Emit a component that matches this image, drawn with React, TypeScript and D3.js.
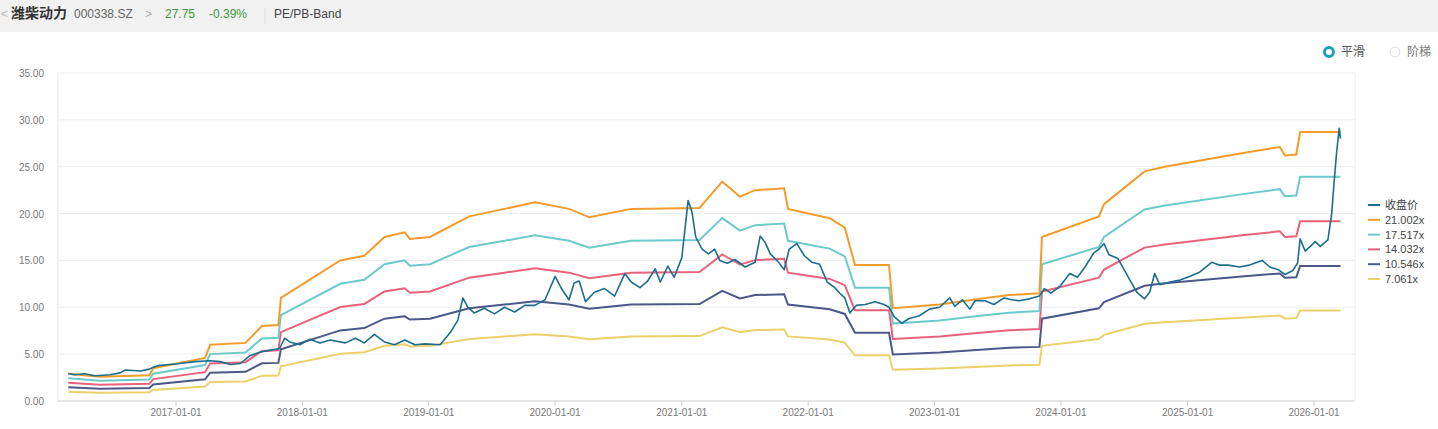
import React, { useEffect, useRef } from 'react';
import * as d3 from 'd3';

// close price: decimal year, value
const priceYears = [2016.15,2016.20,2016.28,2016.36,2016.48,2016.56,2016.60,2016.72,2016.79,2016.82,2016.87,2016.95,2017.03,2017.15,2017.27,2017.35,2017.43,2017.51,2017.58,2017.66,2017.74,2017.82,2017.86,2017.90,2017.98,2018.06,2018.14,2018.22,2018.34,2018.42,2018.49,2018.57,2018.65,2018.73,2018.81,2018.89,2018.97,2019.09,2019.17,2019.23,2019.27,2019.31,2019.36,2019.44,2019.52,2019.60,2019.68,2019.76,2019.84,2019.92,2020.00,2020.05,2020.11,2020.15,2020.19,2020.24,2020.31,2020.39,2020.47,2020.55,2020.60,2020.67,2020.73,2020.79,2020.83,2020.89,2020.94,2021.00,2021.05,2021.08,2021.11,2021.16,2021.21,2021.26,2021.30,2021.36,2021.42,2021.50,2021.58,2021.62,2021.66,2021.70,2021.76,2021.81,2021.85,2021.91,2021.97,2022.03,2022.09,2022.15,2022.21,2022.25,2022.29,2022.33,2022.38,2022.45,2022.53,2022.60,2022.64,2022.68,2022.74,2022.80,2022.88,2022.96,2023.04,2023.12,2023.16,2023.22,2023.28,2023.32,2023.40,2023.47,2023.55,2023.61,2023.67,2023.75,2023.83,2023.87,2023.92,2023.99,2024.07,2024.13,2024.19,2024.26,2024.30,2024.34,2024.38,2024.45,2024.50,2024.54,2024.60,2024.66,2024.70,2024.74,2024.78,2024.86,2024.94,2025.02,2025.09,2025.19,2025.25,2025.32,2025.41,2025.49,2025.59,2025.65,2025.72,2025.77,2025.83,2025.87,2025.89,2025.93,2026.01,2026.05,2026.11,2026.14,2026.16,2026.18,2026.20,2026.21];
const priceValues = [2.9,2.8,2.9,2.7,2.8,3.0,3.3,3.2,3.4,3.6,3.8,3.9,4.0,4.2,4.3,4.2,3.9,4.0,4.8,5.2,5.4,5.6,6.7,6.3,6.0,6.6,6.2,6.5,6.2,6.7,6.2,7.1,6.3,6.0,6.5,6.0,6.1,6.0,7.3,8.6,11.0,10.0,9.4,9.9,9.3,10.0,9.5,10.2,10.2,10.8,13.3,12.0,10.8,12.6,12.8,10.6,11.6,12.0,11.2,13.6,12.7,12.1,12.8,14.1,12.7,14.4,13.2,15.3,21.4,20.2,17.5,16.2,15.7,16.2,15.0,14.7,15.1,14.3,14.8,17.6,16.9,15.7,14.9,14.0,16.2,16.8,15.5,14.8,14.6,12.7,12.1,11.5,11.0,9.4,10.2,10.3,10.6,10.3,10.0,9.0,8.3,8.8,9.1,9.8,10.0,11.0,10.1,10.8,9.8,10.7,10.7,10.3,11.0,10.8,10.7,10.9,11.2,12.0,11.5,12.2,13.6,13.2,14.3,15.8,16.2,16.8,15.6,15.2,14.0,13.0,11.6,10.9,11.6,13.6,12.4,12.7,12.9,13.3,13.7,14.8,14.5,14.5,14.3,14.5,15.0,14.3,14.0,13.5,13.9,14.7,17.3,16.0,17.0,16.5,17.2,20.0,23.5,26.7,29.1,28.0];

// top band (21.002x); other bands scale from it
const bandYears = [2016.15,2016.40,2016.79,2016.82,2017.23,2017.27,2017.55,2017.68,2017.81,2017.83,2018.30,2018.49,2018.65,2018.81,2018.85,2019.01,2019.32,2019.60,2019.84,2020.11,2020.27,2020.60,2021.14,2021.32,2021.46,2021.58,2021.81,2021.84,2022.17,2022.29,2022.37,2022.64,2022.67,2023.04,2023.36,2023.59,2023.83,2023.85,2024.30,2024.34,2024.66,2024.82,2025.45,2025.73,2025.77,2025.86,2025.89,2026.21];
const topBand = [2.9,2.6,2.75,3.5,4.6,6.0,6.2,8.0,8.1,11.0,15.0,15.5,17.5,18.0,17.3,17.5,19.7,20.5,21.2,20.5,19.6,20.5,20.6,23.4,21.8,22.5,22.7,20.5,19.5,18.5,14.5,14.5,9.9,10.3,10.9,11.3,11.5,17.5,19.7,21.0,24.5,25.0,26.5,27.1,26.2,26.3,28.7,28.7];

const multiples = [21.002, 17.517, 14.032, 10.546, 7.061];
const bandColors = ['#f39c2b', '#6ccaca', '#e8627a', '#4b5888', '#ecd069'];
const priceColor = '#1d6d8f';
const legendLabels = ['收盘价', '21.002x', '17.517x', '14.032x', '10.546x', '7.061x'];
const yTicks = [0, 5, 10, 15, 20, 25, 30, 35];
const xTickYears = [2017, 2018, 2019, 2020, 2021, 2022, 2023, 2024, 2025, 2026];

const toDate = (y: number) => {
  const yr = Math.floor(y);
  const s = new Date(yr, 0, 1).getTime(), e = new Date(yr + 1, 0, 1).getTime();
  return new Date(s + (y - yr) * (e - s));
};

const W = 1438, H = 429;
const font = 'Arial, "Liberation Sans", "Noto Sans CJK SC", sans-serif';

export default function App() {
  const ref = useRef<SVGSVGElement>(null);

  useEffect(() => {
    document.body.style.margin = '0';
    const svg = d3.select(ref.current);
    svg.selectAll('*').remove();

    // header
    svg.append('rect').attr('width', W).attr('height', 32).attr('fill', '#f1f1f1');
    const hdr = svg.append('text').attr('y', 18).attr('font-family', font).attr('font-size', 12);
    hdr.append('tspan').attr('x', 1).attr('fill', '#bbb').text('<');
    hdr.append('tspan').attr('x', 11).attr('font-weight', 'bold').attr('font-size', 14).attr('fill', '#333').text('潍柴动力');
    hdr.append('tspan').attr('x', 74).attr('fill', '#666').text('000338.SZ');
    hdr.append('tspan').attr('x', 145).attr('fill', '#aaa').text('>');
    hdr.append('tspan').attr('x', 165).attr('fill', '#3a9a3a').text('27.75');
    hdr.append('tspan').attr('x', 209).attr('fill', '#3a9a3a').text('-0.39%');
    hdr.append('tspan').attr('x', 274).attr('fill', '#444').text('PE/PB-Band');
    svg.append('line').attr('x1', 265).attr('x2', 265).attr('y1', 8).attr('y2', 24).attr('stroke', '#ddd');

    // radios
    svg.append('circle').attr('cx', 1329).attr('cy', 52).attr('r', 4.5).attr('fill', 'none').attr('stroke', '#1aa0b8').attr('stroke-width', 3);
    svg.append('text').attr('x', 1341).attr('y', 56).attr('font-family', font).attr('font-size', 12).attr('fill', '#555').text('平滑');
    svg.append('circle').attr('cx', 1395).attr('cy', 52).attr('r', 5).attr('fill', 'none').attr('stroke', '#ddd');
    svg.append('text').attr('x', 1407).attr('y', 56).attr('font-family', font).attr('font-size', 12).attr('fill', '#777').text('阶梯');

    const x = d3.scaleTime().domain([toDate(2017), toDate(2026)]).range([176, 1314]);
    const y = d3.scaleLinear().domain([0, 35]).range([401, 73]);

    const g = svg.append('g');
    yTicks.forEach(t => {
      g.append('line').attr('x1', 58).attr('x2', 1355).attr('y1', y(t)).attr('y2', y(t))
        .attr('stroke', t === 0 ? '#ccc' : '#eee');
      g.append('text').attr('x', 44).attr('y', y(t) + 4).attr('text-anchor', 'end')
        .attr('font-family', font).attr('font-size', 10).attr('fill', '#777').text(t.toFixed(2));
    });
    g.append('line').attr('x1', 58).attr('x2', 58).attr('y1', 73).attr('y2', 401).attr('stroke', '#e4e4e4');
    g.append('line').attr('x1', 1355).attr('x2', 1355).attr('y1', 73).attr('y2', 401).attr('stroke', '#eee');
    xTickYears.forEach(yr => {
      const px = x(toDate(yr));
      g.append('line').attr('x1', px).attr('x2', px).attr('y1', 401).attr('y2', 406).attr('stroke', '#ccc');
      g.append('text').attr('x', px).attr('y', 416).attr('text-anchor', 'middle')
        .attr('font-family', font).attr('font-size', 10).attr('fill', '#777')
        .text(d3.timeFormat('%Y-%m-%d')(toDate(yr)));
    });

    const line = d3.line<[number, number]>().x(d => x(toDate(d[0]))).y(d => y(d[1]));
    multiples.slice().reverse().forEach((m, ri) => {
      const i = multiples.length - 1 - ri;
      const pts = bandYears.map((yr, k) => [yr, topBand[k] * m / multiples[0]] as [number, number]);
      g.append('path').attr('d', line(pts)).attr('fill', 'none').attr('stroke', bandColors[i]).attr('stroke-width', 2);
    });
    const pp = priceYears.map((yr, k) => [yr, priceValues[k]] as [number, number]);
    g.append('path').attr('d', line(pp)).attr('fill', 'none').attr('stroke', priceColor)
      .attr('stroke-width', 1.6).attr('stroke-linejoin', 'round');

    // legend
    const colors = [priceColor, ...bandColors];
    legendLabels.forEach((l, i) => {
      const ly = 205 + i * 14.8;
      svg.append('line').attr('x1', 1368).attr('x2', 1380).attr('y1', ly).attr('y2', ly)
        .attr('stroke', colors[i]).attr('stroke-width', 2);
      svg.append('text').attr('x', 1385).attr('y', ly + 4).attr('font-family', font)
        .attr('font-size', 11).attr('fill', '#444').text(l);
    });
  }, []);

  return (
    <div style={{ position: 'absolute', left: 0, top: 0 }}>
      <svg ref={ref} width={W} height={H} style={{ display: 'block', background: '#fff' }} />
    </div>
  );
}
